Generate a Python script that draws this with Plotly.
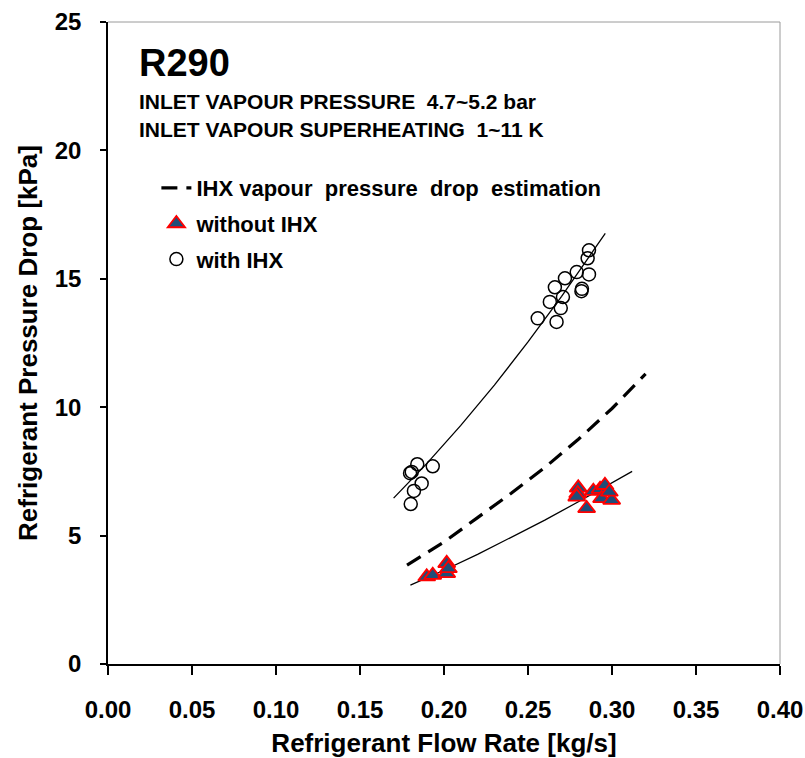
import plotly.graph_objects as go

# ---------------- data ----------------
with_ihx_x = [0.2863, 0.2855, 0.2790, 0.2863, 0.2720, 0.2660, 0.2821, 0.2818, 0.2708, 0.2630,
              0.2695, 0.2558, 0.2670, 0.1808, 0.1798, 0.1841, 0.1933, 0.1867, 0.1821, 0.1802]
with_ihx_y = [16.11, 15.80, 15.26, 15.17, 15.02, 14.67, 14.61, 14.52, 14.29, 14.10,
              13.86, 13.46, 13.32, 7.48, 7.43, 7.78, 7.70, 7.03, 6.74, 6.23]

without_ihx_x = [0.1897, 0.1933, 0.2016, 0.2016, 0.2026, 0.2799, 0.2796, 0.2790, 0.2849, 0.2889,
                 0.2929, 0.2958, 0.2938, 0.2998, 0.2984]
without_ihx_y = [3.40, 3.46, 3.92, 3.53, 3.72, 6.86, 6.64, 6.51, 6.06, 6.73,
                 6.81, 6.96, 6.45, 6.38, 6.70]

with_fit_x = [0.170, 0.190, 0.210, 0.230, 0.250, 0.270, 0.290, 0.296]
with_fit_y = [6.46, 7.82, 9.29, 10.86, 12.54, 14.32, 16.20, 16.77]

without_fit_x = [0.180, 0.200, 0.220, 0.240, 0.260, 0.280, 0.300, 0.312]
without_fit_y = [3.07, 3.65, 4.27, 4.92, 5.60, 6.32, 7.06, 7.50]

estim_x = [0.178, 0.200, 0.220, 0.240, 0.260, 0.280, 0.300, 0.320]
estim_y = [3.85, 4.75, 5.70, 6.65, 7.65, 8.75, 9.95, 11.30]

x_ticks = [0.00, 0.05, 0.10, 0.15, 0.20, 0.25, 0.30, 0.35, 0.40]
y_ticks = [0, 5, 10, 15, 20, 25]

FONT = "Arial, Liberation Sans, sans-serif"

fig = go.Figure()

fig.add_trace(go.Scatter(
    x=estim_x, y=estim_y, mode="lines",
    name="IHX vapour  pressure  drop  estimation",
    line=dict(color="black", width=3.2, dash="16px,9px"),
    legendgroup="a",
))
fig.add_trace(go.Scatter(
    x=without_fit_x, y=without_fit_y, mode="lines", showlegend=False,
    line=dict(color="black", width=1.3), hoverinfo="skip",
))
fig.add_trace(go.Scatter(
    x=with_fit_x, y=with_fit_y, mode="lines", showlegend=False,
    line=dict(color="black", width=1.3), hoverinfo="skip",
))
fig.add_trace(go.Scatter(
    x=without_ihx_x, y=without_ihx_y, mode="markers", name="without IHX",
    marker=dict(symbol="triangle-up", size=15, color="#1F4E79",
                line=dict(color="#FF0000", width=1.8)),
    legendgroup="b",
))
fig.add_trace(go.Scatter(
    x=with_ihx_x, y=with_ihx_y, mode="markers", name="with IHX",
    marker=dict(symbol="circle", size=13, color="rgba(255,255,255,0)",
                line=dict(color="black", width=1.5)),
    legendgroup="c",
))

fig.add_annotation(x=0.0173, y=23.42, xref="x", yref="y", text="<b>R290</b>",
                   showarrow=False, xanchor="left", yanchor="middle",
                   font=dict(family=FONT, size=38, color="black"))
fig.add_annotation(x=0.0173, y=21.9, xref="x", yref="y",
                   text="<b>INLET VAPOUR PRESSURE  4.7~5.2 bar</b>",
                   showarrow=False, xanchor="left", yanchor="middle",
                   font=dict(family=FONT, size=21, color="black"))
fig.add_annotation(x=0.0173, y=20.82, xref="x", yref="y",
                   text="<b>INLET VAPOUR SUPERHEATING  1~11 K</b>",
                   showarrow=False, xanchor="left", yanchor="middle",
                   font=dict(family=FONT, size=21, color="black"))

# light plot-area border on top and right
fig.add_shape(type="line", xref="paper", yref="paper", x0=0, x1=1, y0=1, y1=1,
              line=dict(color="#9a9a9a", width=1))
fig.add_shape(type="line", xref="paper", yref="paper", x0=1, x1=1, y0=0, y1=1,
              line=dict(color="#9a9a9a", width=1))

fig.update_layout(
    width=805, height=758,
    margin=dict(l=108, r=25, t=22, b=94, autoexpand=False),
    paper_bgcolor="white", plot_bgcolor="white",
    font=dict(family=FONT, color="black"),
    showlegend=True,
    legend=dict(
        x=0.072, y=0.774, xanchor="left", yanchor="top",
        bgcolor="rgba(255,255,255,0)", borderwidth=0,
        font=dict(family=FONT, size=22, color="black", weight="bold"),
        tracegroupgap=4, itemwidth=30,
    ),
    xaxis=dict(
        range=[0, 0.4], tickvals=x_ticks, tickformat=".2f", automargin=False,
        showgrid=False, zeroline=False, showline=True, linecolor="black", linewidth=1.5,
        ticks="outside", ticklen=9, tickwidth=1.5, tickcolor="black",
        tickfont=dict(family=FONT, size=24, color="black", weight="bold"),
        ticklabelstandoff=14,
        title=dict(text="<b>Refrigerant Flow Rate [kg/s]</b>", standoff=16,
                   font=dict(family=FONT, size=26, color="black")),
    ),
    yaxis=dict(
        range=[0, 25], tickvals=y_ticks, automargin=False,
        showgrid=False, zeroline=False, showline=True, linecolor="black", linewidth=1.5,
        ticks="outside", ticklen=6, tickwidth=1.5, tickcolor="black",
        tickfont=dict(family=FONT, size=24, color="black", weight="bold"),
        ticklabelstandoff=14,
        title=dict(text="<b>Refrigerant Pressure Drop [kPa]</b>", standoff=10,
                   font=dict(family=FONT, size=26, color="black")),
    ),
)

fig.write_html("out.html")
